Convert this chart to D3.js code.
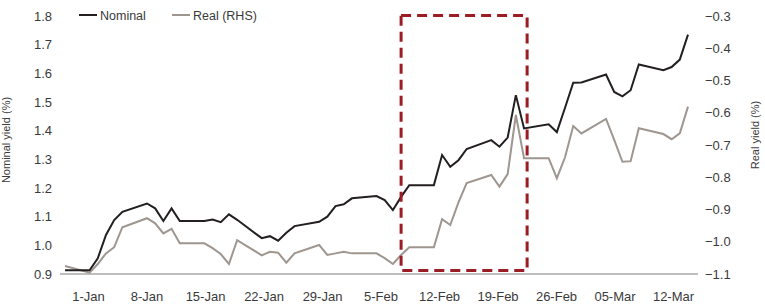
<!DOCTYPE html>
<html>
<head>
<meta charset="utf-8">
<script src="https://cdn.jsdelivr.net/npm/d3@7"></script>
<style>
  body { margin: 0; background: #fff; }
  text { font-family: "Liberation Sans", Arial, sans-serif; fill: #3a3a3a; }
</style>
</head>
<body>
<div id="fig"></div>
<script>
// daily dates (business days)
var dates = [
  "2021-01-01","2021-01-04","2021-01-05","2021-01-06","2021-01-07","2021-01-08",
  "2021-01-11","2021-01-12","2021-01-13","2021-01-14","2021-01-15",
  "2021-01-18","2021-01-19","2021-01-20","2021-01-21","2021-01-22",
  "2021-01-25","2021-01-26","2021-01-27","2021-01-28","2021-01-29",
  "2021-02-01","2021-02-02","2021-02-03","2021-02-04","2021-02-05",
  "2021-02-08","2021-02-09","2021-02-10","2021-02-11","2021-02-12",
  "2021-02-15","2021-02-16","2021-02-17","2021-02-18","2021-02-19",
  "2021-02-22","2021-02-23","2021-02-24","2021-02-25","2021-02-26",
  "2021-03-01","2021-03-02","2021-03-03","2021-03-04","2021-03-05",
  "2021-03-08","2021-03-09","2021-03-10","2021-03-11","2021-03-12",
  "2021-03-15","2021-03-16","2021-03-17","2021-03-18"
];

// nominal yield, left axis
var nominal = [
  0.913, 0.913, 0.955, 1.036, 1.088, 1.117,
  1.146, 1.129, 1.085, 1.129, 1.085,
  1.085, 1.090, 1.081, 1.108, 1.089,
  1.025, 1.032, 1.016, 1.044, 1.067,
  1.082, 1.100, 1.137, 1.143, 1.164,
  1.172, 1.158, 1.123, 1.169, 1.210,
  1.210, 1.315, 1.274, 1.297, 1.336,
  1.367, 1.344, 1.376, 1.524, 1.408,
  1.422, 1.395, 1.480, 1.567, 1.568,
  1.596, 1.535, 1.520, 1.541, 1.631,
  1.611, 1.622, 1.648, 1.735
];

// real yield, right axis
var real = [
  -1.075, -1.096, -1.069, -1.036, -1.017, -0.955,
  -0.927, -0.943, -0.974, -0.960, -1.005,
  -1.005, -1.020, -1.038, -1.069, -0.995,
  -1.042, -1.031, -1.034, -1.065, -1.036,
  -1.010, -1.041, -1.036, -1.031, -1.036,
  -1.036, -1.051, -1.069, -1.041, -1.017,
  -1.017, -0.930, -0.948, -0.878, -0.818,
  -0.793, -0.829, -0.790, -0.607, -0.741,
  -0.741, -0.803, -0.738, -0.641, -0.664,
  -0.619, -0.684, -0.752, -0.750, -0.648,
  -0.666, -0.682, -0.664, -0.581
];

var xLabels = ["1-Jan","8-Jan","15-Jan","22-Jan","29-Jan","5-Feb","12-Feb","19-Feb","26-Feb","05-Mar","12-Mar"];
var leftTicks = [0.9, 1.0, 1.1, 1.2, 1.3, 1.4, 1.5, 1.6, 1.7, 1.8];
var rightTicks = [-1.1, -1.0, -0.9, -0.8, -0.7, -0.6, -0.5, -0.4, -0.3];

// highlighted period
var boxDates = ["2021-02-11", "2021-02-26T09:00"];
var boxRange = [0.912, 1.802];

var parse = d3.isoParse;

var margin = {top: 16, right: 67, bottom: 34, left: 60},
    width = 765 - margin.left - margin.right,
    height = 308 - margin.top - margin.bottom;

var svg = d3.select("#fig").append("svg")
    .attr("width", 765)
    .attr("height", 308)
  .append("g")
    .attr("transform", "translate(" + margin.left + "," + margin.top + ")");

var x = d3.scaleTime()
    .domain([parse(dates[0]), parse(dates[dates.length - 1])])
    .range([5, width - 10]);

// labels sit on their own even spacing
var xLab = d3.scalePoint()
    .domain(xLabels)
    .range([28, 613]);

var yL = d3.scaleLinear().domain([0.9, 1.8]).range([height, 0]);
var yR = d3.scaleLinear().domain([-1.1, -0.3]).range([height, 0]);

var fmt = d3.format(".1f");

// x axis
var gx = svg.append("g")
    .attr("transform", "translate(0," + height + ")")
    .call(d3.axisBottom(xLab).tickSize(0).tickPadding(18));
gx.select(".domain").remove();
gx.selectAll("text").style("font-size", "13px");

svg.append("line")
    .attr("x1", 0).attr("x2", width)
    .attr("y1", yL(0.9)).attr("y2", yL(0.9))
    .attr("stroke", "#a8a8a8")
    .attr("stroke-width", 1.3);

// left axis
var gl = svg.append("g")
    .call(d3.axisLeft(yL).tickValues(leftTicks).tickFormat(fmt).tickSize(0).tickPadding(8));
gl.select(".domain").remove();
gl.selectAll("text").style("font-size", "13px");

// right axis
var gr = svg.append("g")
    .attr("transform", "translate(" + width + ",0)")
    .call(d3.axisRight(yR).tickValues(rightTicks).tickFormat(fmt).tickSize(0).tickPadding(7));
gr.select(".domain").remove();
gr.selectAll("text").style("font-size", "13px");

// axis titles
svg.append("text")
    .attr("transform", "rotate(-90)")
    .attr("x", -(140 - margin.top))
    .attr("y", -margin.left + 10)
    .style("font-size", "11px")
    .style("text-anchor", "middle")
    .text("Nominal yield (%)");

svg.append("text")
    .attr("transform", "rotate(-90)")
    .attr("x", -(135 - margin.top))
    .attr("y", width + 61)
    .style("font-size", "11px")
    .style("text-anchor", "middle")
    .text("Real yield (%)");

// lines
var nomLine = d3.line()
    .x(function(d, i) { return x(parse(dates[i])); })
    .y(function(d) { return yL(d); });
var realLine = d3.line()
    .x(function(d, i) { return x(parse(dates[i])); })
    .y(function(d) { return yR(d); });

svg.append("path")
    .datum(real)
    .attr("fill", "none")
    .attr("stroke", "#9e968f")
    .attr("stroke-width", 2)
    .attr("stroke-linejoin", "miter")
    .attr("d", realLine);

svg.append("path")
    .datum(nominal)
    .attr("fill", "none")
    .attr("stroke", "#231f20")
    .attr("stroke-width", 2)
    .attr("d", nomLine);

// dashed box
svg.append("rect")
    .attr("x", x(parse(boxDates[0])))
    .attr("y", yL(boxRange[1]))
    .attr("width", x(parse(boxDates[1])) - x(parse(boxDates[0])))
    .attr("height", yL(boxRange[0]) - yL(boxRange[1]))
    .attr("fill", "none")
    .attr("stroke", "#9b1c24")
    .attr("stroke-width", 3)
    .attr("stroke-dasharray", "10,6");

// legend
var legend = [
  {name: "Nominal", color: "#231f20", x: 19},
  {name: "Real (RHS)", color: "#9e968f", x: 112}
];
legend.forEach(function(l) {
  svg.append("line")
    .attr("x1", l.x).attr("x2", l.x + 18)
    .attr("y1", -1).attr("y2", -1)
    .attr("stroke", l.color).attr("stroke-width", 2);
  svg.append("text")
    .attr("x", l.x + 21).attr("y", 4)
    .style("font-size", "12.5px")
    .text(l.name);
});
</script>
</body>
</html>
